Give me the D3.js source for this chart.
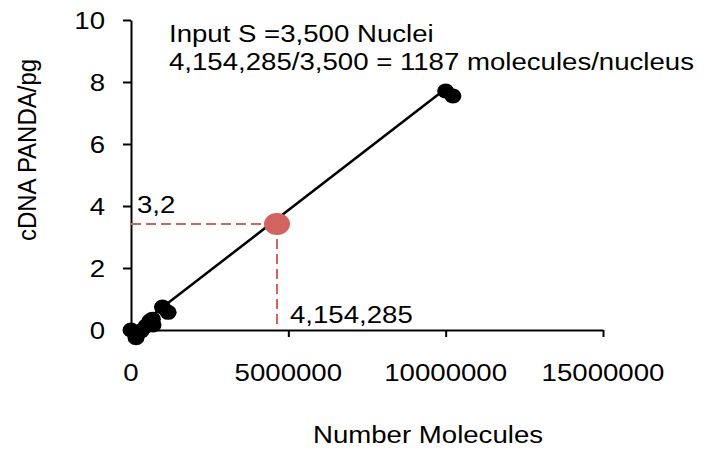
<!DOCTYPE html>
<html>
<head>
<meta charset="utf-8">
<script src="https://cdn.jsdelivr.net/npm/d3@7/dist/d3.min.js"></script>
<style>
  body { margin: 0; background: #fff; }
  text { font-family: "Liberation Sans", Arial, sans-serif; fill: #000; }
</style>
</head>
<body>
<div id="body"></div>
<script>
// values
var molecules = [0, 160000, 320000, 480000, 600000, 680000, 700000, 1000000, 1180000, 10000000, 10230000];
var pandaPg   = [0, -0.25, -0.03, 0.13, 0.29, 0.35, 0.16, 0.74, 0.57, 7.71, 7.55];
var trendX = [0, 10000000];
var trendY = [-0.05, 7.78];
var inputX = [4640000];
var inputY = [3.42];
var xTicks = [0, 5000000, 10000000, 15000000];
var yTicks = [0, 2, 4, 6, 8, 10];
var notes = ["Input S =3,500 Nuclei", "4,154,285/3,500 = 1187 molecules/nucleus"];

var width = 712, height = 450;
var stretch = 1.15; // picture is a bit wider than tall

var x = d3.scaleLinear().domain([0, 15000000]).range([131, 603]);
var y = d3.scaleLinear().domain([0, 10]).range([330, 20]);

var svg = d3.select("#body").append("svg")
    .attr("width", width)
    .attr("height", height);

function label(g, px, py, str, anchor, size) {
    return g.append("text")
        .attr("transform", "translate(" + px + "," + py + ") scale(" + stretch + ",1)")
        .attr("text-anchor", anchor || "start")
        .style("font-size", (size || 24) + "px")
        .text(str);
}

// axes
var xAxis = svg.append("g")
    .attr("transform", "translate(0," + y(0) + ")")
    .call(d3.axisBottom(x).tickValues(xTicks).tickSize(7).tickSizeOuter(0).tickFormat(""));
var yAxis = svg.append("g")
    .attr("transform", "translate(" + x(0) + ",0)")
    .call(d3.axisLeft(y).tickValues(yTicks).tickSize(8).tickSizeOuter(0).tickFormat(""));
svg.selectAll(".domain, .tick line").attr("stroke", "#000").attr("stroke-width", 2);

xTicks.forEach(function (t) { label(svg, x(t), 381, d3.format("d")(t), "middle"); });
yTicks.forEach(function (t) { label(svg, 105, y(t) + 8.5, d3.format("d")(t), "end"); });

// trend line
var line = d3.line().x(function (d) { return x(d[0]); }).y(function (d) { return y(d[1]); });
svg.append("path")
    .attr("d", line(d3.zip(trendX, trendY)))
    .attr("fill", "none")
    .attr("stroke", "#000")
    .attr("stroke-width", 2.5);

// data points
svg.selectAll(".pt")
    .data(d3.zip(molecules, pandaPg))
    .enter().append("ellipse")
    .attr("class", "pt")
    .attr("cx", function (d) { return x(d[0]); })
    .attr("cy", function (d) { return y(d[1]); })
    .attr("rx", 8.5)
    .attr("ry", 7.5)
    .attr("fill", "#000");

// input guide lines + point
var red = "#d2645f";
svg.append("line")
    .attr("x1", x(0)).attr("x2", x(inputX[0]))
    .attr("y1", y(inputY[0])).attr("y2", y(inputY[0]))
    .attr("stroke", red).attr("stroke-width", 2).attr("stroke-dasharray", "10,5");
svg.append("line")
    .attr("x1", x(inputX[0])).attr("x2", x(inputX[0]))
    .attr("y1", y(inputY[0])).attr("y2", y(0))
    .attr("stroke", red).attr("stroke-width", 2).attr("stroke-dasharray", "10,5");
svg.append("ellipse")
    .attr("cx", x(inputX[0])).attr("cy", y(inputY[0]))
    .attr("rx", 13).attr("ry", 11)
    .attr("fill", red);

// annotations
label(svg, 137, 213, "3,2");
label(svg, 290, 323, "4,154,285");
label(svg, 169, 42, notes[0]);
label(svg, 169, 70, notes[1]);

// axis titles
label(svg, 428, 443, "Number Molecules", "middle");
svg.append("text")
    .attr("transform", "translate(36,150) rotate(-90) scale(1,1.08)")
    .attr("text-anchor", "middle")
    .style("font-size", "24px")
    .text("cDNA PANDA/pg");
</script>
</body>
</html>
